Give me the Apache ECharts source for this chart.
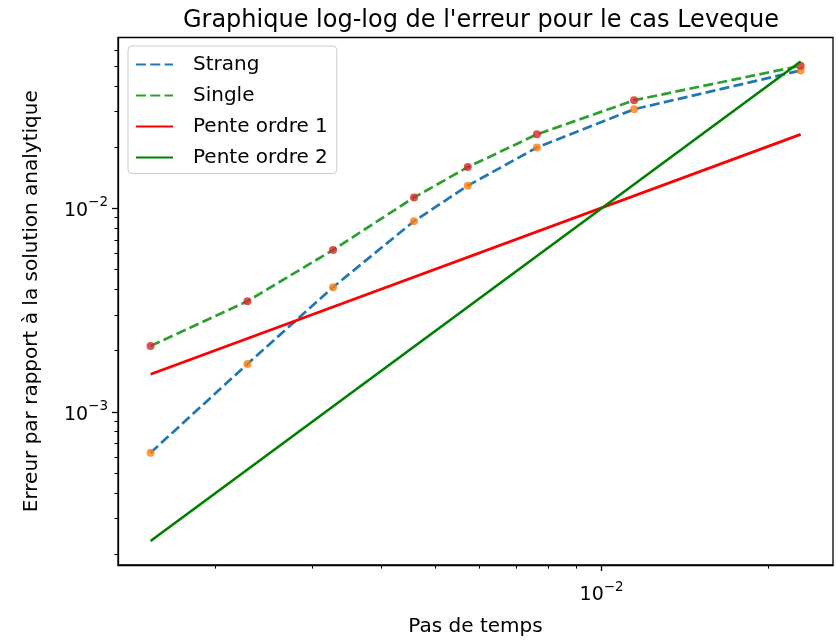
<!DOCTYPE html>
<html><head><meta charset="utf-8">
<script src="https://cdn.jsdelivr.net/npm/echarts@6/dist/echarts.min.js"></script>
<style>html,body{margin:0;padding:0;background:#fff}#c{width:836px;height:642px}</style>
</head><body><div id="c"></div>
<script>
// ---- data ----
const dt      = [0.00153, 0.00229, 0.00327, 0.00458, 0.00573, 0.00764, 0.01145, 0.0229];
const strang  = [6.30e-4, 1.72e-3, 4.10e-3, 8.65e-3, 1.293e-2, 1.99e-2, 3.07e-2, 4.76e-2];
const single  = [2.11e-3, 3.50e-3, 6.25e-3, 1.131e-2, 1.595e-2, 2.31e-2, 3.40e-2, 5.02e-2];
const penteX  = [0.00153, 0.0229];
const pente1  = [1.53e-3, 2.31e-2];
const pente2  = [2.32e-4, 5.27e-2];
// ---- ticks ----
const xMajorTicks = [0.01];
const xMinorTicks = [0.002, 0.003, 0.004, 0.005, 0.006, 0.007, 0.008, 0.009, 0.02];
const yMajorTicks = [0.001, 0.01];
const yMinorTicks = [0.0002, 0.0003, 0.0004, 0.0005, 0.0006, 0.0007, 0.0008, 0.0009,
                     0.002, 0.003, 0.004, 0.005, 0.006, 0.007, 0.008, 0.009,
                     0.02, 0.03, 0.04, 0.05, 0.06];
const xRange = [1.336e-3, 2.62e-2];
const yRange = [1.769e-4, 6.912e-2];

const FONT = 'DejaVu Sans';
const pairs = (xs, ys) => xs.map((x, i) => [x, ys[i]]);
const powFmt = v => {
  const e = Math.round(Math.log10(v));
  return '{b|10}{e|' + (e < 0 ? '\u2212' + (-e) : e) + '}';
};
const rich = {
  b: {fontFamily: FONT, fontSize: 19, color: '#000', verticalAlign: 'bottom'},
  e: {fontFamily: FONT, fontSize: 13.5, color: '#000', verticalAlign: 'bottom', padding: [0, 0, 11, 0]}
};
const dash = [10, 4.3];

const chart = echarts.init(document.getElementById('c'), null, {renderer: 'canvas'});
chart.setOption({
  animation: false,
  backgroundColor: '#fff',
  title: {
    text: "Graphique log-log de l'erreur pour le cas Leveque",
    left: 476, top: 4, textAlign: 'center',
    textStyle: {fontFamily: FONT, fontSize: 24, fontWeight: 'normal', color: '#000'}
  },
  grid: {left: 118, right: 3, top: 37.5, bottom: 70.7, show: true,
         borderColor: '#000', borderWidth: 1.3, backgroundColor: 'transparent'},
  legend: {
    orient: 'vertical', left: 128, top: 46,
    data: ['Strang', 'Single', 'Pente ordre 1', 'Pente ordre 2'],
    itemWidth: 37, itemHeight: 14, itemGap: 11,
    padding: [8.5, 9, 6, 7],
    itemStyle: {opacity: 0},
    borderColor: '#cccccc', borderWidth: 1, borderRadius: 4,
    backgroundColor: 'rgba(255,255,255,0.8)',
    textStyle: {fontFamily: FONT, fontSize: 20, color: '#000', lineHeight: 20, padding: [0, 0, 0, 15]}
  },
  xAxis: [
    {type: 'log', min: xRange[0], max: xRange[1], position: 'bottom',
     name: 'Pas de temps', nameLocation: 'middle', nameGap: 52,
     nameTextStyle: {fontFamily: FONT, fontSize: 20, color: '#000'},
     axisLine: {show: true, lineStyle: {color: '#000', width: 1.3}},
     axisTick: {show: true, length: 6, customValues: xMajorTicks, lineStyle: {color: '#000', width: 1.3}},
     axisLabel: {show: true, customValues: xMajorTicks, margin: 15, formatter: powFmt, rich: rich},
     splitLine: {show: false}, minorTick: {show: false}},
    {type: 'log', min: xRange[0], max: xRange[1], position: 'bottom',
     axisLine: {show: false},
     axisTick: {show: true, length: 3.6, customValues: xMinorTicks, lineStyle: {color: '#000', width: 1.1}},
     axisLabel: {show: false}, splitLine: {show: false}}
  ],
  yAxis: [
    {type: 'log', min: yRange[0], max: yRange[1], position: 'left',
     name: 'Erreur par rapport \u00e0 la solution analytique', nameLocation: 'middle', nameGap: 76,
     nameTextStyle: {fontFamily: FONT, fontSize: 20, color: '#000'},
     axisLine: {show: true, lineStyle: {color: '#000', width: 1.3}},
     axisTick: {show: true, length: 6, customValues: yMajorTicks, lineStyle: {color: '#000', width: 1.3}},
     axisLabel: {show: true, customValues: yMajorTicks, margin: 10, formatter: powFmt, rich: rich},
     splitLine: {show: false}, minorTick: {show: false}},
    {type: 'log', min: yRange[0], max: yRange[1], position: 'left',
     axisLine: {show: false},
     axisTick: {show: true, length: 3.6, customValues: yMinorTicks, lineStyle: {color: '#000', width: 1.1}},
     axisLabel: {show: false}, splitLine: {show: false}}
  ],
  series: [
    {name: 'Strang', type: 'line', data: pairs(dt, strang), symbol: 'none', color: '#1f77b4',
     lineStyle: {color: '#1f77b4', width: 2.7, type: dash}, z: 2},
    {name: 'Single', type: 'line', data: pairs(dt, single), symbol: 'none', color: '#2ca02c',
     lineStyle: {color: '#2ca02c', width: 2.7, type: dash}, z: 2},
    {name: 'Strang pts', type: 'scatter', data: pairs(dt, strang), symbolSize: 8,
     itemStyle: {color: '#ff7f0e'}, z: 3},
    {name: 'Single pts', type: 'scatter', data: pairs(dt, single), symbolSize: 8,
     itemStyle: {color: '#d62728'}, z: 3},
    {name: 'Pente ordre 1', type: 'line', data: pairs(penteX, pente1), symbol: 'none', color: '#ff0000',
     lineStyle: {color: '#ff0000', width: 2.7}, z: 4},
    {name: 'Pente ordre 2', type: 'line', data: pairs(penteX, pente2), symbol: 'none', color: '#008000',
     lineStyle: {color: '#008000', width: 2.7}, z: 4}
  ]
});
</script>
</body></html>
